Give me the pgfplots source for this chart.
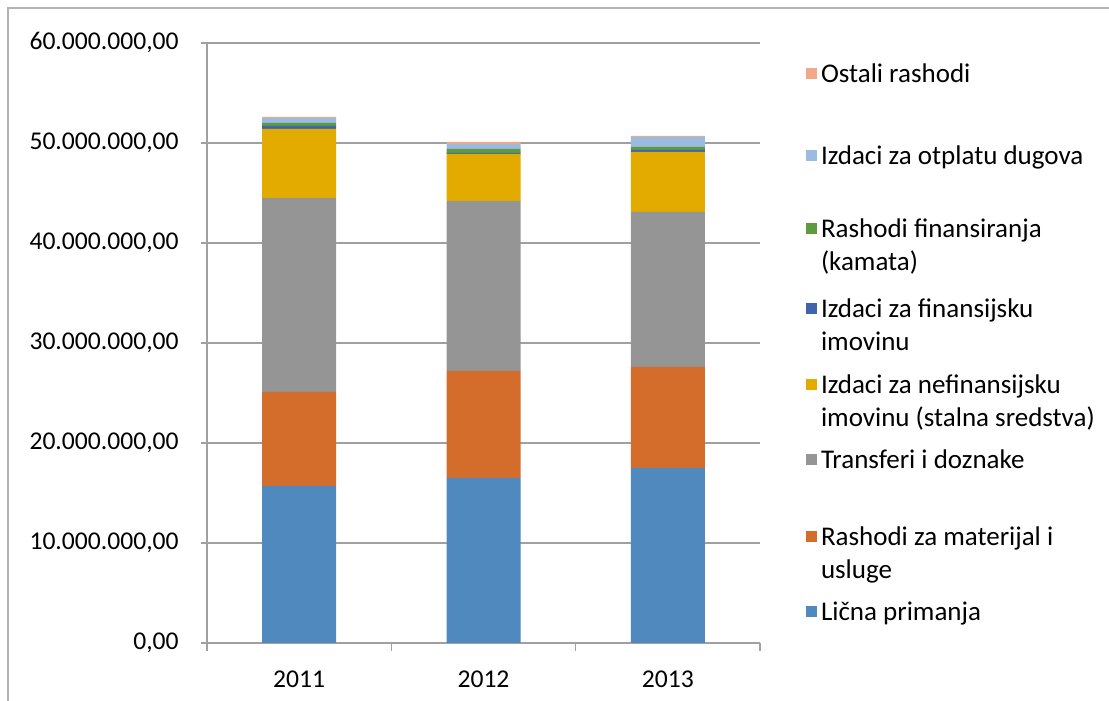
\documentclass[border=0pt]{standalone}
\usepackage{pgfplots}
\pgfplotsset{compat=1.18}
\usepackage{fontspec}
\setmainfont{Carlito}
\definecolor{cLicna}{HTML}{4F89BE}
\definecolor{cMat}{HTML}{D46C2C}
\definecolor{cTrans}{HTML}{959595}
\definecolor{cNefin}{HTML}{E3AB00}
\definecolor{cFin}{HTML}{3F64AE}
\definecolor{cKam}{HTML}{5E9B3F}
\definecolor{cOtpl}{HTML}{9BBBE0}
\definecolor{cOst}{HTML}{F2A98A}
\definecolor{cGrid}{HTML}{A0A0A0}
\newcommand{\lt}[2][38.4pt]{\parbox[t][#1][t]{140pt}{\fontsize{13.5}{16.5}\selectfont #2}}
\begin{document}
\fontsize{13.5}{16.5}\selectfont
\begin{tikzpicture}
\useasboundingbox (0,0) rectangle (554.5pt,350.5pt);
\draw[cGrid!80,line width=0.6pt] (4pt,0pt) -- (4pt,346.5pt) -- (554.5pt,346.5pt);
\begin{axis}[
  at={(103.5pt,29pt)}, anchor=south west,
  scale only axis, width=276.5pt, height=300pt,
  xmin=-0.5, xmax=2.5, ymin=0, ymax=60000000,
  ybar stacked, bar width=37pt,
  xtick={0,1,2}, xticklabels={2011,2012,2013},
  minor xtick={-0.5,0.5,1.5,2.5},
  major x tick style={draw=none},
  minor x tick style={cGrid, line width=0.6pt},
  ytick={0,10000000,20000000,30000000,40000000,50000000,60000000},
  y tick style={cGrid, line width=0.6pt},
  tick align=outside, major tick length=3pt, minor tick length=4pt,
  ymajorgrids, grid style={cGrid, line width=0.6pt},
  axis x line*=bottom, axis y line*=left,
  axis line style={cGrid, line width=0.6pt},
  scaled y ticks=false,
  yticklabel style={xshift=-6.5pt, /pgf/number format/.cd, fixed, fixed zerofill, precision=2, use comma, 1000 sep={.}, assume math mode=true},
  tick label style={font=\fontsize{12.8}{14}\selectfont},
  xticklabel style={yshift=-6pt},
  reverse legend,
  legend style={draw=none, fill=none, inner sep=0pt, outer sep=0pt, row sep=0pt,
     at={(1.0832,0.9658)}, anchor=north west,
     nodes={inner sep=0pt, text height=, text depth=}, cells={anchor=base west},
     /tikz/every odd column/.style={column sep=2pt}},
  legend image code/.code={\fill[#1] (0pt,1.5pt) rectangle (5.5pt,7pt);},
]
\addplot[fill=cLicna, draw=none] coordinates {(0,15700000) (1,16500000) (2,17500000)};
\addplot[fill=cMat, draw=none] coordinates {(0,9400000) (1,10700000) (2,10100000)};
\addplot[fill=cTrans, draw=none] coordinates {(0,19400000) (1,17000000) (2,15500000)};
\addplot[fill=cNefin, draw=none] coordinates {(0,6900000) (1,4700000) (2,6000000)};
\addplot[fill=cFin, draw=none] coordinates {(0,300000) (1,100000) (2,200000)};
\addplot[fill=cKam, draw=none] coordinates {(0,300000) (1,400000) (2,300000)};
\addplot[fill=cOtpl, draw=none] coordinates {(0,500000) (1,500000) (2,1000000)};
\addplot[fill=cOst, draw=none] coordinates {(0,100000) (1,200000) (2,100000)};
\legend{\lt{Lična primanja},\lt[37.5pt]{Rashodi za materijal i\\usluge},\lt[38.5pt]{Transferi i doznake},\lt[37.5pt]{Izdaci za nefinansijsku\\imovinu (stalna sredstva)},\lt[38pt]{Izdaci za finansijsku\\imovinu},\lt[40pt]{Rashodi finansiranja\\(kamata)},\lt[36.5pt]{Izdaci za otplatu dugova},\lt[41pt]{Ostali rashodi}}
\end{axis}
\end{tikzpicture}
\end{document}
